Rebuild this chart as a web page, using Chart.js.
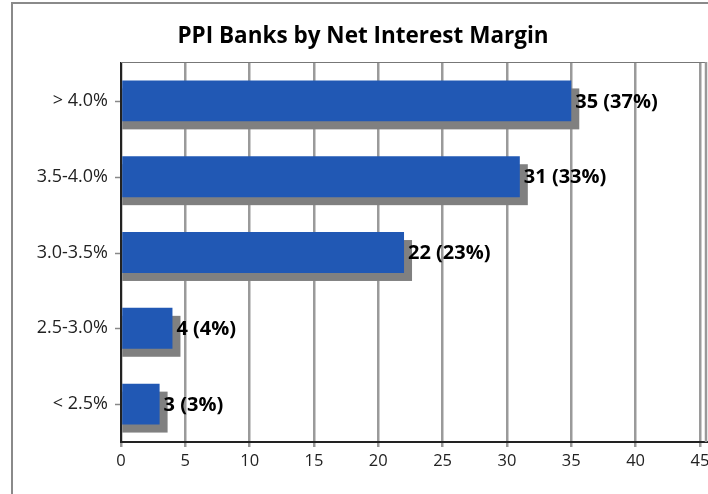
<!DOCTYPE html>
<html>
<head>
<meta charset="utf-8">
<script src="https://cdn.jsdelivr.net/npm/chart.js@4"></script>
<style>
html,body{margin:0;padding:0;background:#fff;}
#wrap{position:relative;width:708px;height:494px;}
</style>
</head>
<body>
<div id="wrap"><canvas id="c" width="708" height="494"></canvas></div>
<script>
const categories = ['> 4.0%', '3.5-4.0%', '3.0-3.5%', '2.5-3.0%', '< 2.5%'];
const bankCounts = [35, 31, 22, 4, 3];
const bankShares = [37, 33, 23, 4, 3];
const chartTitle = 'PPI Banks by Net Interest Margin';

const FONT = '"Open Sans", "Noto Sans", sans-serif';

const decor = {
  id: 'decor',
  beforeDraw(chart) {
    const ctx = chart.ctx;
    ctx.save();
    ctx.fillStyle = '#fff';
    ctx.fillRect(0, 0, chart.width, chart.height);
    ctx.strokeStyle = '#8a8a8a';
    ctx.lineWidth = 2;
    ctx.beginPath();
    ctx.moveTo(12, chart.height + 2);
    ctx.lineTo(12, 3);
    ctx.lineTo(chart.width + 2, 3);
    ctx.stroke();
    ctx.fillStyle = '#000';
    ctx.font = 'bold 22.5px ' + FONT;
    ctx.textAlign = 'center';
    ctx.textBaseline = 'middle';
    ctx.fillText(chartTitle, 363, 37);
    ctx.restore();
  },
  beforeDatasetsDraw(chart) {
    const ctx = chart.ctx;
    const a = chart.chartArea;
    ctx.save();
    ctx.strokeStyle = '#777';
    ctx.lineWidth = 1;
    ctx.beginPath();
    ctx.moveTo(a.left, a.top - 0.5);
    ctx.lineTo(a.right, a.top - 0.5);
    ctx.stroke();
    ctx.strokeStyle = '#999';
    ctx.lineWidth = 2.5;
    ctx.beginPath();
    ctx.moveTo(a.right - 1, a.top - 1);
    ctx.lineTo(a.right - 1, a.bottom);
    ctx.stroke();
    const meta = chart.getDatasetMeta(0);
    ctx.fillStyle = '#808080';
    meta.data.forEach(bar => {
      const p = bar.getProps(['x', 'y', 'base', 'height'], true);
      ctx.fillRect(p.base, p.y - p.height / 2 + 8, p.x - p.base + 8, p.height);
    });
    ctx.restore();
  },
  afterDatasetsDraw(chart) {
    const ctx = chart.ctx;
    const meta = chart.getDatasetMeta(0);
    ctx.save();
    ctx.fillStyle = '#000';
    ctx.font = 'bold 20px ' + FONT;
    ctx.textAlign = 'left';
    ctx.textBaseline = 'middle';
    meta.data.forEach((bar, i) => {
      const p = bar.getProps(['x', 'y'], true);
      ctx.fillText(bankCounts[i] + ' (' + bankShares[i] + '%)', p.x + 4, p.y + 1);
    });
    ctx.restore();
  },
  afterDraw(chart) {
    const ctx = chart.ctx;
    const ys = chart.scales.y;
    const left = chart.chartArea.left;
    ctx.save();
    ctx.strokeStyle = '#888';
    ctx.lineWidth = 1.5;
    categories.forEach((c, i) => {
      const y = Math.round(ys.getPixelForValue(i)) + 0.5;
      ctx.beginPath();
      ctx.moveTo(left - 6, y);
      ctx.lineTo(left - 1, y);
      ctx.stroke();
    });
    ctx.restore();
  }
};

new Chart(document.getElementById('c'), {
  type: 'bar',
  data: {
    labels: categories,
    datasets: [{
      data: bankCounts,
      backgroundColor: '#2158b4',
      borderWidth: 0,
      categoryPercentage: 1,
      barPercentage: 0.54
    }]
  },
  options: {
    indexAxis: 'y',
    responsive: false,
    animation: false,
    devicePixelRatio: 1,
    layout: { padding: { top: 63, right: 1, left: 0, bottom: 0 } },
    plugins: { legend: { display: false }, title: { display: false }, tooltip: { enabled: false } },
    scales: {
      x: {
        min: 0,
        max: 45.55,
        ticks: {
          stepSize: 5,
          includeBounds: false,
          color: '#222',
          font: { family: FONT, size: 16.5 },
          padding: 4,
          maxRotation: 0
        },
        grid: { color: '#9a9a9a', lineWidth: 2.5, tickLength: 5, tickColor: '#999', drawTicks: true },
        border: { color: '#222', width: 2 },
        afterFit(s) { s.height = 52; s.paddingLeft = 0; s.paddingRight = 0; }
      },
      y: {
        ticks: {
          color: '#222',
          font: { family: FONT, size: 18 },
          padding: 13
        },
        grid: { display: false, drawOnChartArea: false, drawTicks: false, tickLength: 6 },
        border: { display: true, color: '#222', width: 2 },
        afterFit(s) { s.width = 121; s.paddingTop = 0; s.paddingBottom = 0; }
      }
    }
  },
  plugins: [decor]
});
</script>
</body>
</html>
